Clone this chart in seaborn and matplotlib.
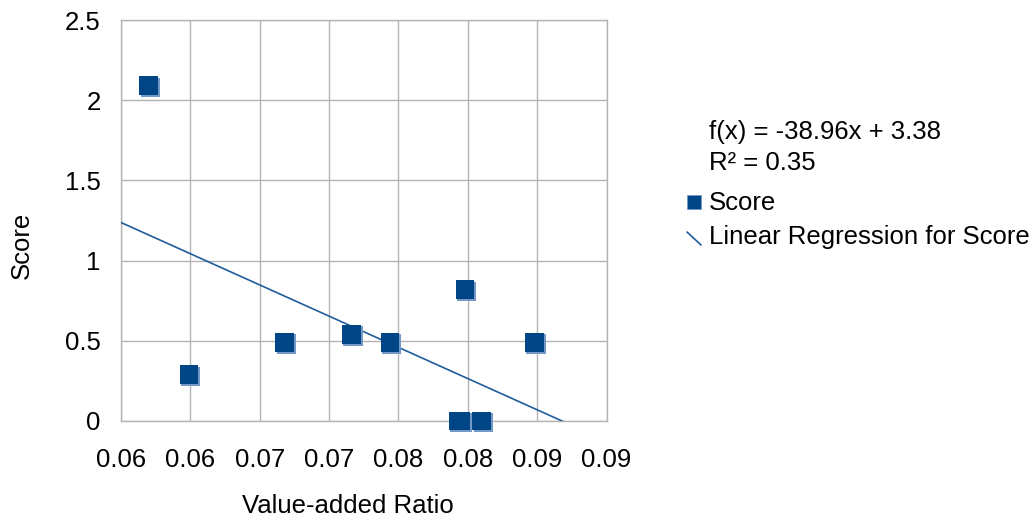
import matplotlib
matplotlib.use("Agg")
import matplotlib.pyplot as plt
from matplotlib.lines import Line2D
from matplotlib.transforms import offset_copy
import seaborn as sns
import pandas as pd

# ---- data ----
value_added_ratio = [0.0570, 0.0599, 0.0668, 0.0716, 0.0744, 0.0798, 0.0848, 0.0793, 0.0795, 0.0810]
score = [2.09, 0.29, 0.49, 0.54, 0.49, 0.82, 0.49, 0.0, 0.0, 0.0]
x_ticks = [0.055, 0.060, 0.065, 0.070, 0.075, 0.080, 0.085, 0.090]
x_tick_labels = ["0.06", "0.06", "0.07", "0.07", "0.08", "0.08", "0.09", "0.09"]
y_ticks = [0, 0.5, 1, 1.5, 2, 2.5]
y_tick_labels = ["0", "0.5", "1", "1.5", "2", "2.5"]
equation_text = "f(x) = -38.96x + 3.38"
r2_text = "R² = 0.35"
series_name = "Score"
trend_name = "Linear Regression for Score"
x_title = "Value-added Ratio"
y_title = "Score"

df = pd.DataFrame({"x": value_added_ratio, "y": score})

sns.set_theme(style="whitegrid")
plt.rcParams["font.family"] = ["Liberation Sans", "DejaVu Sans"]
plt.rcParams["text.color"] = "black"

W, H = 1036, 525
fig = plt.figure(figsize=(W / 100, H / 100), dpi=100)
L, R, T, B = 121, 606.5, 20, 421
ax = fig.add_axes([L / W, 1 - B / H, (R - L) / W, (B - T) / H])

grid_c = "#b3b3b3"
blue = "#004586"
fs = 18.5

ax.set_xlim(0.055, 0.09)
ax.set_ylim(0, 2.5)

# regression line computed from the data
sns.regplot(data=df, x="x", y="y", ax=ax, scatter=False, ci=None, truncate=False,
            line_kws=dict(color="#1f5d9c", lw=1.2, zorder=3))

# shadow copy of the markers (bottom-right)
shadow_tr = offset_copy(ax.transData, fig=fig, x=1.2, y=-1.2, units="points")
sns.scatterplot(data=df, x="x", y="y", ax=ax, marker="s", s=190, color="#7399c6",
                edgecolor="none", linewidth=0, transform=shadow_tr, zorder=4,
                legend=False, clip_on=False)
sns.scatterplot(data=df, x="x", y="y", ax=ax, marker="s", s=180, color=blue,
                edgecolor="none", linewidth=0, zorder=5, legend=False, clip_on=False)

ax.set_xlim(0.055, 0.09)
ax.set_ylim(0, 2.5)
ax.set_xticks(x_ticks)
ax.set_xticklabels(x_tick_labels)
ax.set_yticks(y_ticks)
ax.set_yticklabels(y_tick_labels)
ax.grid(True, color=grid_c, lw=1.0)
for s in ax.spines.values():
    s.set_visible(True)
    s.set_color(grid_c)
    s.set_linewidth(1.0)
    s.set_zorder(2)
ax.tick_params(axis="both", which="major", length=7.5, width=1.0, color=grid_c,
               labelsize=fs, labelcolor="black", direction="out")
ax.tick_params(axis="x", pad=12)
ax.tick_params(axis="y", pad=7)
ax.set_xlabel("")
ax.set_ylabel("")
ax.set_facecolor("white")

fig.text(348 / W, 1 - 506 / H, x_title, ha="center", va="center", fontsize=fs, color="black")
fig.text(22 / W, 1 - 245 / H, y_title, ha="center", va="center", rotation=90, fontsize=fs,
         color="black")

# equation & legend (drawn in figure pixel coordinates)
fig.text(709 / W, 1 - 132 / H, equation_text, ha="left", va="center", fontsize=fs, color="black")
fig.text(709 / W, 1 - 163 / H, r2_text, ha="left", va="center", fontsize=fs, color="black")
fig.add_artist(Line2D([694 / W], [1 - 202 / H], marker="s", markersize=10, color=blue,
                      markeredgecolor="#7399c6", markeredgewidth=0.6, linestyle="none",
                      transform=fig.transFigure))
fig.text(709 / W, 1 - 203 / H, series_name, ha="left", va="center", fontsize=fs, color="black")
fig.add_artist(Line2D([687 / W, 701 / W], [1 - 232 / H, 1 - 245 / H], color="#1f5d9c",
                      lw=1.2, transform=fig.transFigure))
fig.text(709 / W, 1 - 237 / H, trend_name, ha="left", va="center", fontsize=fs, color="black")

fig.savefig("out.png", dpi=100, facecolor="white")
